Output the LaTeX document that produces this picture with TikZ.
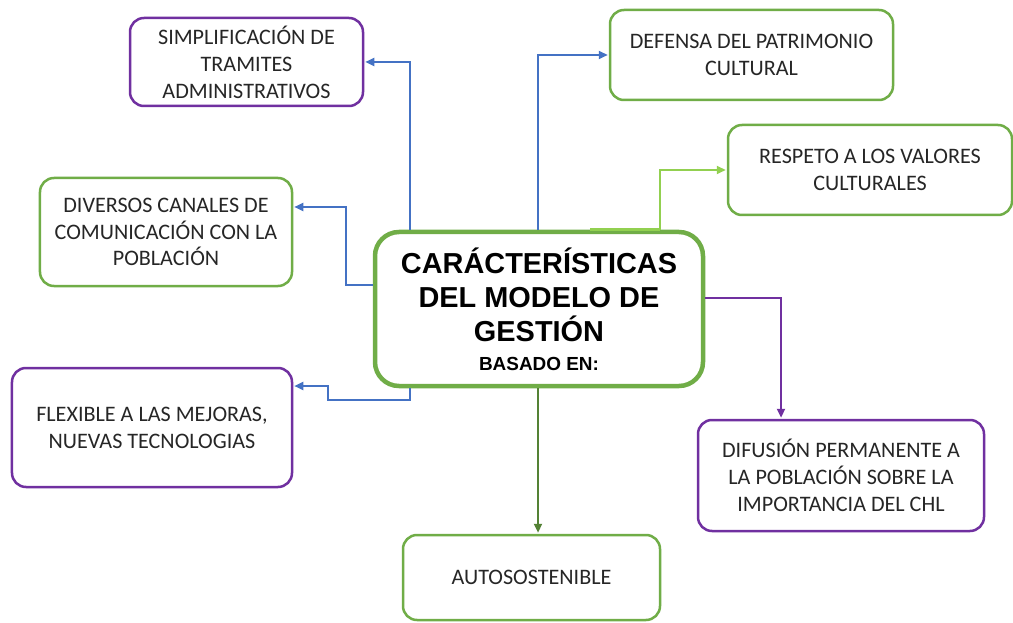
\documentclass[tikz,border=0pt]{standalone}
\usepackage{fontspec}
\setmainfont{Carlito}
\newfontfamily\hdfont{Liberation Sans}
\usetikzlibrary{arrows.meta}
\definecolor{cgreen}{HTML}{70AD47}
\definecolor{cpurple}{HTML}{7030A0}
\definecolor{cblue}{HTML}{4472C4}
\definecolor{clight}{HTML}{92D050}
\definecolor{cdark}{HTML}{548235}
\definecolor{ctext}{HTML}{262626}
\begin{document}
\begin{tikzpicture}[x=1bp,y=-1bp,
  box/.style={draw, rounded corners=14bp, line width=2.5bp, fill=white, align=center,
    text=ctext, font=\fontsize{22.2}{27}\selectfont, inner sep=0pt},
  gbox/.style={box, draw=cgreen},
  pbox/.style={box, draw=cpurple},
  link/.style={line width=2.2bp, -{Triangle[length=9bp,width=8bp]}, shorten >=1bp}]
\useasboundingbox[fill=white] (0,0) rectangle (1013,623);

% helper coordinates
\coordinate (x410) at (410,0);
\coordinate (x538) at (538,0);
\coordinate (x590) at (590,0);
\coordinate (x660) at (660,0);
\coordinate (x781) at (781,0);
\coordinate (y285) at (0,285);
\coordinate (y298) at (0,298);
\coordinate (y207) at (0,207);
\coordinate (y174) at (0,174);
\coordinate (y386) at (0,386);
\coordinate (bd1) at (346,285);
\coordinate (bd2) at (346,207);
\coordinate (bf1) at (410,400);
\coordinate (bf2) at (328,400);
\coordinate (bf3) at (328,386);

% nodes
\node[pbox, minimum width=233bp, minimum height=88bp] (simp) at (246.5,62)
  {SIMPLIFICACIÓN DE\\TRAMITES\\ADMINISTRATIVOS};
\node[gbox, minimum width=283bp, minimum height=90bp] (def) at (751.5,55)
  {DEFENSA DEL PATRIMONIO\\CULTURAL};
\node[gbox, minimum width=284bp, minimum height=90bp] (resp) at (870,170)
  {RESPETO A LOS VALORES\\CULTURALES};
\node[gbox, minimum width=252bp, minimum height=108bp] (div) at (166,232)
  {DIVERSOS CANALES DE\\COMUNICACIÓN CON LA\\POBLACIÓN};
\node[pbox, minimum width=280bp, minimum height=119bp] (flex) at (152,427.5)
  {FLEXIBLE A LAS MEJORAS,\\NUEVAS TECNOLOGIAS};
\node[pbox, minimum width=286bp, minimum height=111bp] (dif) at (841,475.5)
  {DIFUSIÓN PERMANENTE A\\LA POBLACIÓN SOBRE LA\\IMPORTANCIA DEL CHL};
\node[gbox, minimum width=257bp, minimum height=85bp] (auto) at (531.5,577.5)
  {AUTOSOSTENIBLE};
\node[box, draw=cgreen, line width=4.5bp, rounded corners=24bp, text=black,
  font=\hdfont\bfseries\fontsize{29}{34}\selectfont,
  minimum width=328bp, minimum height=154bp] (c) at (539,309)
  {CARÁCTERÍSTICAS\\DEL MODELO DE\\GESTIÓN\\[-5bp]
   {\fontsize{19}{24}\selectfont BASADO EN:}};

% connectors
\draw[link, cblue] (c.north -| x410) |- (simp.east);
\draw[link, cblue] (c.west |- y285) -- (bd1) -- (bd2) -- (div.east |- y207);
\draw[link, cblue] (c.north -| x538) |- (def.west);
\draw[line width=3bp, clight] (c.north -| x590) -- (c.north -| x660);
\draw[link, clight] (c.north -| x660) |- (resp.west);
\draw[link, cpurple] (c.east |- y298) -| (dif.north -| x781);
\draw[link, cblue] (c.south -| x410) -- (bf1) -- (bf2) -- (bf3) -- (flex.east |- y386);
\draw[link, cdark] (c.south -| x538) -- (auto.north -| x538);
\end{tikzpicture}
\end{document}
